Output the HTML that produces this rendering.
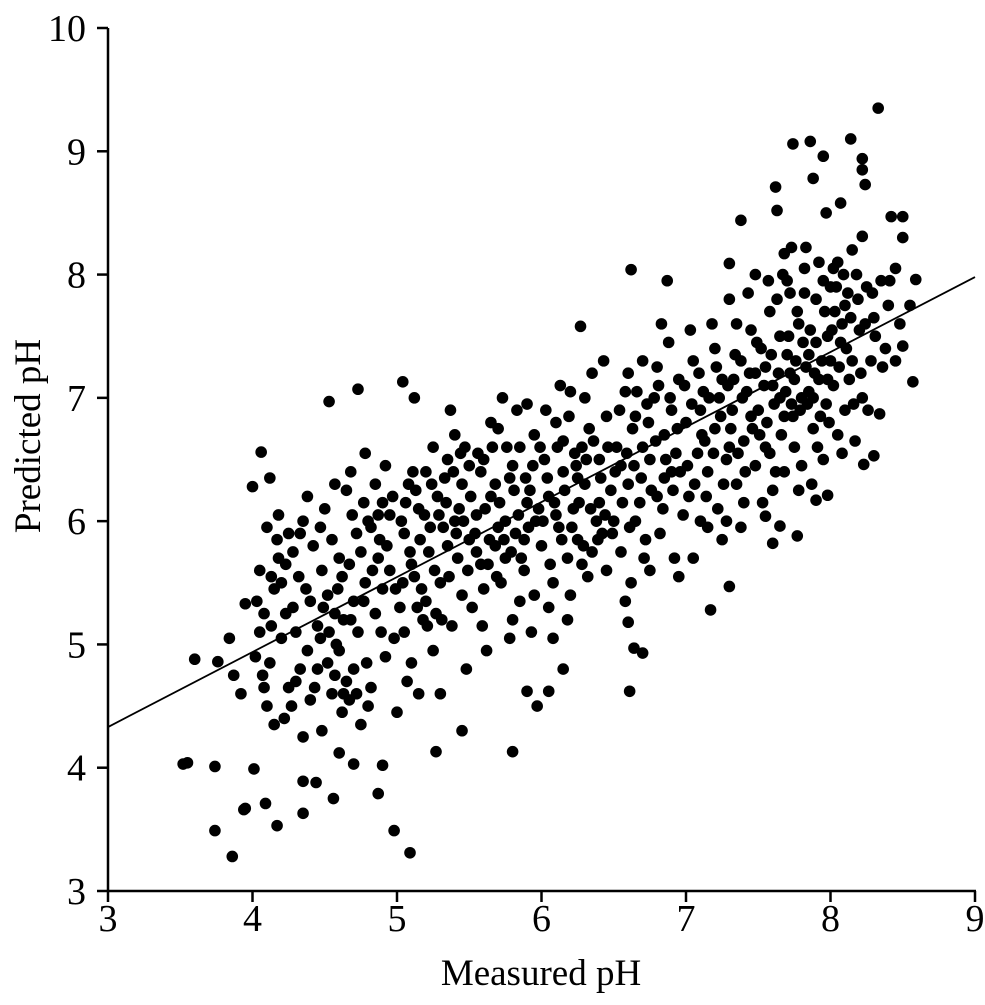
<!DOCTYPE html>
<html><head><meta charset="utf-8"><style>
html,body{margin:0;padding:0;background:#fff}
svg text{font-family:"Liberation Serif",serif;fill:#000}
</style></head><body>
<svg id="chart" width="985" height="1000" viewBox="0 0 985 1000" xmlns="http://www.w3.org/2000/svg">
<g id="axes"></g>
<g id="marks"></g>
<text x="541" y="985" font-size="37" text-anchor="middle">Measured pH</text>
<text transform="translate(40,436) rotate(-90)" font-size="37" text-anchor="middle">Predicted pH</text>
</svg>
<script>
const xTicks=[3,4,5,6,7,8,9];
const yTicks=[3,4,5,6,7,8,9,10];
const fitLine=[[3,4.33],[9,7.98]];
const samples=[
[3.52,4.03],[3.55,4.04],[3.6,4.88],[3.74,4.01],[3.74,3.49],[3.86,3.28],[3.94,3.66],[3.95,3.67],[4.01,3.99],[4.09,3.71],[4.17,3.53],[4.35,3.89],[4.35,3.63],[4.44,3.88],[4.56,3.75],[4.87,3.79],[4.98,3.49],[5.09,3.31],[4.9,4.02],[5.27,4.13],[5.8,4.13],[4.7,4.03],[4.6,4.12],[3.76,4.86],[3.84,5.05],[3.87,4.75],[3.92,4.6],[3.95,5.33],[4.0,6.28],[4.06,6.56],[4.12,6.35],[4.53,6.97],[4.73,7.07],[5.04,7.13],[5.12,7.0],[6.27,7.58],[6.62,8.04],[6.87,7.95],[6.61,4.62],[5.45,4.3],[5.97,4.5],[6.05,4.62],[6.15,4.8],[6.7,4.93],[6.64,4.97],[7.17,5.28],[7.3,5.47],[6.6,5.18],[5.0,4.45],[5.9,4.62],
[8.33,9.35],[8.14,9.1],[7.86,9.08],[7.74,9.06],[7.95,8.96],[8.22,8.94],[8.22,8.85],[8.24,8.73],[7.88,8.78],[7.62,8.71],[7.38,8.44],[7.97,8.5],[7.63,8.52],[8.07,8.58],[8.5,8.47],[8.42,8.47],[8.5,8.3],[8.22,8.31],[7.73,8.22],[7.83,8.22],[7.68,8.17],[7.3,8.09],[7.48,8.0],[8.59,7.96],[8.5,7.42],[8.57,7.13],[8.34,6.87],[8.23,6.46],[8.3,6.53],[7.98,6.21],[7.9,6.17],[7.77,5.88],[7.6,5.82],[7.65,5.96],[7.55,6.04],
[4.02,4.9],[4.05,5.1],[4.08,5.25],[4.1,4.5],[4.12,4.85],[4.15,5.45],[4.18,5.7],[4.2,5.05],[4.22,4.4],[4.25,5.9],[4.28,5.3],[4.3,4.7],[4.32,5.55],[4.35,6.0],[4.38,4.95],[4.4,4.55],[4.42,5.8],[4.45,5.15],[4.48,4.3],[4.05,5.6],[4.1,5.95],[4.2,5.5],[4.3,5.1],[4.4,5.35],[4.15,4.35],[4.25,4.65],[4.35,4.25],[4.45,4.8],[4.08,4.65],[4.18,6.05],[4.28,5.75],[4.38,6.2],[4.48,5.6],[4.5,6.1],[4.52,5.4],[4.55,4.6],[4.58,5.0],[4.6,5.7],[4.62,4.45],[4.65,6.25],[4.68,5.2],[4.7,4.8],[4.72,5.9],[4.75,4.35],[4.78,5.5],[4.8,6.0],[4.82,4.65],[4.85,5.25],[4.88,5.85],[4.9,6.15],[4.92,4.9],[4.95,5.6],[4.98,5.05],[4.55,5.85],[4.6,4.95],[4.65,4.7],[4.7,5.35],[4.75,5.75],[4.8,4.5],[4.85,6.3],[4.9,5.45],[4.95,6.05],[4.52,4.85],[4.62,5.55],[4.72,4.6],[4.82,5.95],[4.92,6.45],[4.68,6.4],[4.78,6.55],[4.57,6.3],
[5.02,5.3],[5.05,5.9],[5.08,6.3],[5.1,4.85],[5.12,5.55],[5.15,6.1],[5.18,5.2],[5.2,6.4],[5.22,5.75],[5.25,4.95],[5.28,6.2],[5.3,5.5],[5.32,5.95],[5.35,6.5],[5.38,5.15],[5.4,6.0],[5.42,5.7],[5.45,6.3],[5.48,4.8],[5.5,5.85],[5.05,5.1],[5.1,5.65],[5.15,4.6],[5.2,5.35],[5.25,6.6],[5.3,4.6],[5.35,5.8],[5.4,6.7],[5.45,5.4],[5.5,6.45],[5.03,6.0],[5.13,6.25],[5.23,5.95],[5.33,6.35],[5.43,6.1],[5.07,4.7],[5.17,5.45],[5.27,5.25],[5.37,6.9],[5.47,6.6],
[5.52,5.3],[5.55,6.05],[5.58,5.65],[5.6,6.5],[5.62,4.95],[5.65,6.2],[5.68,5.8],[5.7,6.75],[5.72,5.5],[5.75,6.0],[5.78,6.35],[5.8,5.2],[5.82,5.9],[5.85,6.6],[5.88,5.6],[5.9,6.95],[5.92,6.25],[5.95,5.4],[5.98,6.1],[5.55,5.75],[5.6,5.45],[5.65,6.8],[5.7,5.95],[5.75,5.7],[5.8,6.45],[5.85,5.35],[5.9,6.15],[5.95,6.7],[5.58,6.4],[5.68,6.3],[5.78,5.05],[5.88,5.85],[5.63,5.65],[5.73,7.0],[5.83,6.9],[5.93,5.1],
[6.0,5.8],[6.02,6.5],[6.05,6.2],[6.08,5.5],[6.1,6.8],[6.12,5.95],[6.15,6.4],[6.18,5.7],[6.2,7.05],[6.22,6.1],[6.25,5.85],[6.28,6.6],[6.3,6.3],[6.32,5.55],[6.35,7.2],[6.38,6.0],[6.4,6.5],[6.42,5.9],[6.45,6.85],[6.48,6.25],[6.05,5.3],[6.1,6.05],[6.15,6.65],[6.2,5.4],[6.25,6.35],[6.3,7.0],[6.35,5.75],[6.4,6.15],[6.45,5.6],[6.03,6.9],[6.13,7.1],[6.23,6.55],[6.33,6.75],[6.43,7.3],[6.08,5.05],[6.18,5.2],[6.28,5.65],
[6.5,6.0],[6.52,6.6],[6.55,5.75],[6.58,7.05],[6.6,6.3],[6.62,5.5],[6.65,6.85],[6.68,6.15],[6.7,7.3],[6.72,5.85],[6.75,6.5],[6.78,7.0],[6.8,6.2],[6.82,5.9],[6.85,6.7],[6.88,7.45],[6.9,6.4],[6.92,5.7],[6.95,7.15],[6.98,6.05],[6.55,6.45],[6.6,7.2],[6.65,6.0],[6.7,6.6],[6.75,5.6],[6.8,7.25],[6.85,6.35],[6.9,6.9],[6.95,5.55],[6.63,6.75],[6.73,6.95],[6.83,7.6],[6.93,6.55],[6.58,5.35],
[7.0,6.8],[7.02,6.2],[7.05,7.3],[7.08,6.55],[7.1,6.0],[7.12,7.05],[7.15,6.4],[7.18,7.6],[7.2,6.75],[7.22,6.1],[7.25,7.15],[7.28,6.5],[7.3,7.8],[7.32,6.9],[7.35,6.3],[7.38,7.3],[7.4,6.65],[7.42,7.05],[7.45,7.55],[7.48,6.45],[7.05,5.7],[7.1,6.9],[7.15,5.95],[7.2,7.4],[7.25,5.85],[7.3,6.6],[7.35,7.6],[7.4,6.15],[7.45,6.85],[7.03,7.55],[7.13,6.65],[7.23,7.0],[7.33,7.15],[7.43,7.85],[7.28,6.0],[7.38,5.95],[7.48,7.2],
[7.5,6.9],[7.52,7.4],[7.55,6.6],[7.58,7.7],[7.6,7.1],[7.62,6.4],[7.65,7.5],[7.68,6.85],[7.7,7.95],[7.72,7.2],[7.75,6.6],[7.78,7.6],[7.8,7.0],[7.82,8.05],[7.85,7.35],[7.88,6.75],[7.9,7.8],[7.92,7.15],[7.95,6.5],[7.98,7.5],[8.0,7.9],[8.02,7.1],[8.05,8.1],[8.08,7.6],[8.1,6.9],[8.12,7.85],[8.15,7.3],[8.18,8.0],[8.2,7.55],[7.55,7.25],[7.6,6.25],[7.65,7.0],[7.7,7.35],[7.75,7.15],[7.8,6.45],[7.85,7.05],[7.9,7.45],[7.95,7.95],[8.0,7.3],[8.05,6.7],[8.1,7.75],[8.15,8.2],[7.57,7.95],[7.67,8.0],[7.77,7.7],[7.87,6.3],[7.97,6.95],[8.07,7.45],[8.17,6.65],[8.25,7.9],[8.28,7.3],[8.3,7.65],[8.35,7.95],[8.38,7.4],[8.4,7.75],[8.45,8.05],[8.45,7.3],[8.55,7.75],[7.53,6.15],[7.63,7.8],[7.73,6.95],[7.83,7.25],[7.93,6.85],[8.03,7.7],[8.13,7.15],[8.22,7.0],
[4.03,5.35],[4.07,4.75],[4.13,5.15],[4.17,5.85],[4.23,5.25],[4.27,4.5],[4.33,5.9],[4.37,5.45],[4.43,4.65],[4.47,5.95],[4.49,5.3],[4.53,5.1],[4.57,4.75],[4.59,5.45],[4.63,5.2],[4.67,4.55],[4.69,6.05],[4.73,5.1],[4.77,6.15],[4.79,4.85],[4.83,5.6],[4.87,6.05],[4.89,5.1],[4.93,5.8],[4.97,6.2],[4.99,5.45],[4.63,4.6],[4.67,5.65],[4.77,5.35],[4.87,5.7],[4.57,5.25],[4.47,5.05],[4.33,4.8],[4.23,5.65],[4.13,5.55],
[5.04,5.5],[5.06,6.15],[5.09,5.75],[5.11,6.4],[5.14,5.3],[5.16,5.85],[5.19,6.05],[5.21,5.15],[5.24,6.3],[5.26,5.6],[5.29,6.05],[5.31,5.2],[5.34,6.15],[5.36,5.55],[5.39,6.4],[5.41,5.9],[5.44,6.55],[5.46,6.0],[5.49,5.6],[5.51,6.2],[5.54,5.9],[5.56,6.55],[5.59,5.15],[5.61,6.1],[5.64,5.85],[5.66,6.6],[5.69,5.55],[5.71,6.15],[5.74,5.85],[5.76,6.6],[5.79,5.75],[5.81,6.25],[5.84,6.05],[5.86,5.7],[5.89,6.35],[5.91,5.95],[5.94,6.45],[5.96,6.0],[5.99,6.6],
[6.01,6.0],[6.04,6.35],[6.06,5.65],[6.09,6.15],[6.11,6.6],[6.14,5.85],[6.16,6.25],[6.19,6.85],[6.21,5.95],[6.24,6.45],[6.26,6.15],[6.29,5.8],[6.31,6.5],[6.34,6.1],[6.36,6.65],[6.39,5.85],[6.41,6.35],[6.44,6.05],[6.46,6.6],[6.49,5.9],[6.51,6.4],[6.54,6.9],[6.56,6.15],[6.59,6.55],[6.61,5.95],[6.64,6.45],[6.66,7.05],[6.69,6.35],[6.71,5.7],[6.74,6.8],[6.76,6.25],[6.79,6.65],[6.81,7.1],[6.84,6.1],[6.86,6.5],[6.89,7.0],[6.91,6.25],[6.94,6.75],[6.96,6.4],[6.99,7.1],
[7.01,6.45],[7.04,6.95],[7.06,6.3],[7.09,7.2],[7.11,6.7],[7.14,6.2],[7.16,7.0],[7.19,6.55],[7.21,7.25],[7.24,6.85],[7.26,6.3],[7.29,7.1],[7.31,6.75],[7.34,7.35],[7.36,6.55],[7.39,7.0],[7.41,6.4],[7.44,7.2],[7.46,6.75],[7.49,7.45],
[7.51,6.7],[7.54,7.1],[7.56,6.8],[7.59,7.35],[7.61,6.95],[7.64,7.2],[7.66,6.7],[7.69,7.05],[7.71,7.5],[7.74,6.85],[7.76,7.3],[7.79,6.9],[7.81,7.45],[7.84,6.95],[7.86,7.55],[7.89,7.2],[7.91,6.6],[7.94,7.3],[7.96,7.7],[7.99,6.8],[8.01,7.55],[8.04,7.9],[8.06,7.25],[8.09,8.0],[8.11,7.4],[8.14,7.65],[8.16,6.95],[8.19,7.8],[8.21,7.2],[8.24,7.6],[8.26,6.9],[8.29,7.85],[8.31,7.5],[8.36,7.25],[8.41,7.95],[8.48,7.6],[7.58,6.55],[7.68,6.4],[7.78,6.25],[7.88,7.0],[7.98,7.15],[8.08,6.55],[7.72,7.85],[7.82,7.85],[7.92,8.1],[8.02,8.05]
];
const X0=108,X1=975,Y0=891,Y1=28;
const xs=v=>X0+(v-3)/(9-3)*(X1-X0);
const ys=v=>Y0-(v-3)/(10-3)*(Y0-Y1);
const NS="http://www.w3.org/2000/svg";
const axes=document.getElementById('axes');
function mk(tag,attrs,parent){const e=document.createElementNS(NS,tag);for(const k in attrs)e.setAttribute(k,attrs[k]);parent.appendChild(e);return e;}
let a=mk('line',{x1:X0,y1:Y0,x2:X1+1,y2:Y0,stroke:'#000','stroke-width':2.5},axes);


a=mk('line',{x1:X0,y1:Y0+1,x2:X0,y2:Y1,stroke:'#000','stroke-width':2.5},axes);


xTicks.forEach(t=>{
 const tk=mk('line',{x1:xs(t),y1:Y0,x2:xs(t),y2:Y0+11,stroke:'#000','stroke-width':2.5},axes);
 
 
 const tx=mk('text',{x:xs(t),y:Y0+40,'font-size':38,'text-anchor':'middle'},axes);
 tx.textContent=t;
 
 
});
yTicks.forEach(t=>{
 const tk=mk('line',{x1:X0-11,y1:ys(t),x2:X0,y2:ys(t),stroke:'#000','stroke-width':2.5},axes);
 
 
 const tx=mk('text',{x:X0-22,y:ys(t)+13,'font-size':38,'text-anchor':'end'},axes);
 tx.textContent=t;
 
 
});
const marks=document.getElementById('marks');
const fl=mk('line',{x1:xs(fitLine[0][0]),y1:ys(fitLine[0][1]),x2:xs(fitLine[1][0]),y2:ys(fitLine[1][1]),stroke:'#000','stroke-width':1.8},marks);


samples.forEach(p=>{
 const c=mk('circle',{cx:xs(p[0]),cy:ys(p[1]),r:5.8,fill:'#000'},marks);
 
 
});
</script>
</body></html>
